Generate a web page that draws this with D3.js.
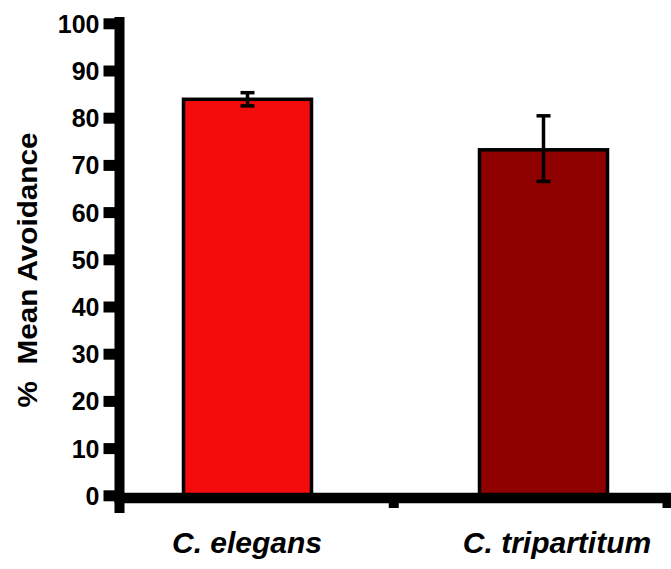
<!DOCTYPE html>
<html>
<head>
<meta charset="utf-8">
<script src="https://cdn.jsdelivr.net/npm/d3@7"></script>
<style>
  body { margin: 0; background: #fff; }
  text { font-family: "Liberation Sans", Arial, sans-serif; font-weight: bold; }
</style>
</head>
<body>
<div id="chart"></div>
<script>
// data
var species = ["C. elegans", "C. tripartitum"];
var meanAvoid = [83.9, 73.2];
var errLow = [82.5, 66.5];
var errHigh = [85.3, 80.4];
var barColors = ["#f40c0c", "#8f0000"];
var yTicks = [0, 10, 20, 30, 40, 50, 60, 70, 80, 90, 100];

var svgWidth = 671;
var svgHeight = 569;

var svg = d3.select("#chart")
    .append("svg")
    .attr("width", svgWidth)
    .attr("height", svgHeight);

var axisX = 119.5;      // centre of the y axis line
var baseY = 498;        // centre of the x axis line

var yScale = d3.scaleLinear()
    .domain([0, 100])
    .range([495.3, 23.3]);

var xScale = d3.scalePoint()
    .domain(species)
    .range([247.5, 543.5]);

var labelScale = d3.scalePoint()
    .domain(species)
    .range([247, 557]);

// dividers under the x axis
var divScale = d3.scaleLinear()
    .domain([0, 2])
    .range([axisX, 667]);

var barWidth = 128;

// bars
svg.selectAll(".bar")
    .data(species)
    .enter()
    .append("rect")
    .attr("class", "bar")
    .attr("x", d => xScale(d) - barWidth / 2)
    .attr("y", (d, i) => yScale(meanAvoid[i]))
    .attr("width", barWidth)
    .attr("height", (d, i) => yScale(0) - yScale(meanAvoid[i]))
    .attr("fill", (d, i) => barColors[i])
    .attr("stroke", "#000")
    .attr("stroke-width", 3.5);

// error bars
var errGroup = svg.selectAll(".err")
    .data(species)
    .enter()
    .append("g")
    .attr("class", "err")
    .attr("stroke", "#000")
    .attr("stroke-width", 3.5);

errGroup.append("line")
    .attr("x1", d => xScale(d))
    .attr("x2", d => xScale(d))
    .attr("y1", (d, i) => yScale(errLow[i]))
    .attr("y2", (d, i) => yScale(errHigh[i]));

errGroup.append("line")
    .attr("x1", d => xScale(d) - 7)
    .attr("x2", d => xScale(d) + 7)
    .attr("y1", (d, i) => yScale(errHigh[i]))
    .attr("y2", (d, i) => yScale(errHigh[i]));

errGroup.append("line")
    .attr("x1", d => xScale(d) - 7)
    .attr("x2", d => xScale(d) + 7)
    .attr("y1", (d, i) => yScale(errLow[i]))
    .attr("y2", (d, i) => yScale(errLow[i]));

// y axis
var leftAxis = d3.axisLeft(yScale)
    .tickValues(yTicks)
    .tickSize(16)
    .tickSizeOuter(0)
    .tickPadding(4);

var yAxis = svg.append("g")
    .attr("transform", `translate(${axisX}, 0)`)
    .call(leftAxis);

yAxis.select(".domain").remove();
yAxis.selectAll(".tick line")
    .attr("stroke", "#000")
    .attr("stroke-width", 11);
yAxis.selectAll(".tick text")
    .attr("fill", "#000")
    .style("font-size", "25px")
    .attr("dy", "0.36em");

// y axis line
svg.append("line")
    .attr("x1", axisX)
    .attr("x2", axisX)
    .attr("y1", 17)
    .attr("y2", 513)
    .attr("stroke", "#000")
    .attr("stroke-width", 10);

// x axis line + divider ticks
var bottomAxis = d3.axisBottom(divScale)
    .tickValues([1, 2])
    .tickSize(15)
    .tickSizeOuter(0)
    .tickFormat("");

var xAxis = svg.append("g")
    .attr("transform", `translate(0, ${baseY - 5})`)
    .call(bottomAxis);

xAxis.select(".domain").remove();
xAxis.selectAll(".tick line")
    .attr("stroke", "#000")
    .attr("stroke-width", 10);

svg.append("line")
    .attr("x1", 114.5)
    .attr("x2", 671)
    .attr("y1", baseY)
    .attr("y2", baseY)
    .attr("stroke", "#000")
    .attr("stroke-width", 10.5);

// category labels
svg.selectAll(".xlabel")
    .data(species)
    .enter()
    .append("text")
    .attr("class", "xlabel")
    .attr("x", d => labelScale(d))
    .attr("y", 553)
    .attr("text-anchor", "middle")
    .style("font-size", "30px")
    .style("font-style", "italic")
    .text(d => d);

// y title
svg.append("text")
    .attr("transform", "translate(37, 270) rotate(-90) scale(1.1, 1)")
    .attr("text-anchor", "middle")
    .style("font-size", "27px")
    .style("white-space", "pre")
    .text("%  Mean Avoidance");
</script>
</body>
</html>
